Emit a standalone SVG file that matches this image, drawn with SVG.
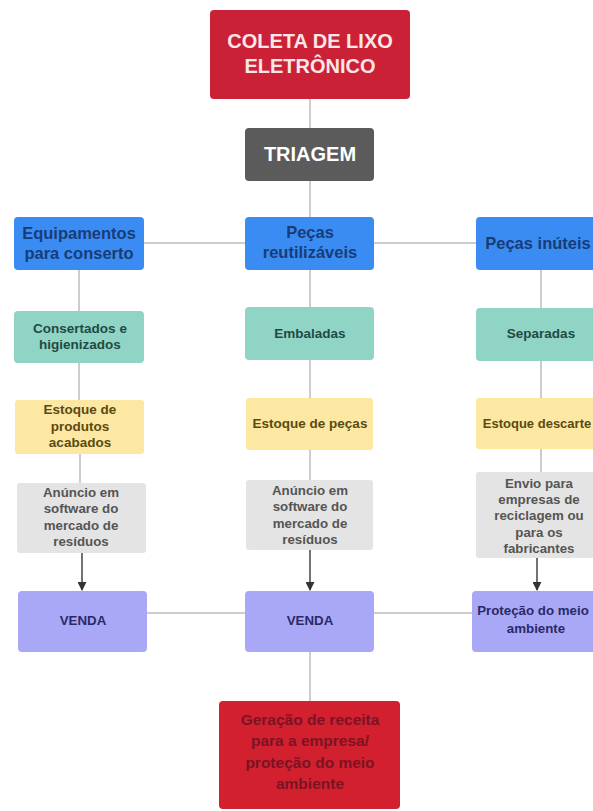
<svg xmlns="http://www.w3.org/2000/svg" width="593" height="811" viewBox="0 0 593 811">
<style>
text{font-family:"Liberation Sans",Arial,sans-serif;text-anchor:middle;font-weight:bold}
.c{stroke:#bcbcbc;stroke-width:1.5;fill:none}
.a{stroke:#444;stroke-width:1.5;fill:none}
.red{fill:#cb2136}
.gray{fill:#5b5b5b}
.blue{fill:#3b8cf2}
.teal{fill:#8fd4c5}
.yel{fill:#fce8a2}
.lg{fill:#e4e4e4}
.pur{fill:#a9a8f7}
.tw{fill:#fbe6e8;font-size:20px}
.tb{fill:#183c78;font-size:16.5px}
.tt{fill:#1f4a44;font-size:13.5px}
.ty{fill:#5a4a12;font-size:13.5px}
.tg{fill:#555;font-size:13.3px}
.tp{fill:#2a2a66;font-size:13.3px}
.tr{fill:#7a1424;font-size:15.5px}
</style>
<defs>
<marker id="ar" viewBox="0 0 10 10" refX="9" refY="5" markerWidth="6" markerHeight="6" orient="auto">
<path d="M0,0 L10,5 L0,10 z" fill="#333"/>
</marker>
</defs>
<rect width="593" height="811" fill="#fff"/>
<g id="connectors">
<line class="c" x1="310" y1="99" x2="310" y2="128"/>
<line class="c" x1="310" y1="181" x2="310" y2="217"/>
<line class="c" x1="144" y1="243" x2="245" y2="243"/>
<line class="c" x1="374" y1="243" x2="476" y2="243"/>
<line class="c" x1="79" y1="270" x2="79" y2="311"/>
<line class="c" x1="310" y1="270" x2="310" y2="307"/>
<line class="c" x1="541" y1="270" x2="541" y2="308"/>
<line class="c" x1="79" y1="363" x2="79" y2="400"/>
<line class="c" x1="310" y1="360" x2="310" y2="398"/>
<line class="c" x1="541" y1="361" x2="541" y2="398"/>
<line class="c" x1="80" y1="454" x2="80" y2="483"/>
<line class="c" x1="310" y1="450" x2="310" y2="480"/>
<line class="c" x1="541" y1="449" x2="541" y2="472"/>
<line class="a" x1="82" y1="553" x2="82" y2="590" marker-end="url(#ar)"/>
<line class="a" x1="310" y1="550" x2="310" y2="590" marker-end="url(#ar)"/>
<line class="a" x1="537" y1="558" x2="537" y2="590" marker-end="url(#ar)"/>
<line class="c" x1="147" y1="613" x2="245" y2="613"/>
<line class="c" x1="374" y1="613" x2="472" y2="613"/>
<line class="c" x1="310" y1="652" x2="310" y2="701"/>
</g>
<g id="coleta"><rect class="red" x="210" y="10" width="200" height="89" rx="4"/>
<text class="tw" x="310" y="48">COLETA DE LIXO</text><text class="tw" x="310" y="73">ELETRÔNICO</text></g>
<g id="triagem"><rect class="gray" x="245" y="128" width="129" height="53" rx="4"/>
<text class="tw" x="310" y="161" style="fill:#fff">TRIAGEM</text></g>
<g id="equipamentos"><rect class="blue" x="14" y="217" width="130" height="53" rx="4"/>
<text class="tb" x="79" y="239">Equipamentos</text><text class="tb" x="79" y="259">para conserto</text></g>
<g id="pecas-reutilizaveis"><rect class="blue" x="245" y="217" width="129" height="53" rx="4"/>
<text class="tb" x="310" y="238">Peças</text><text class="tb" x="310" y="258">reutilizáveis</text></g>
<g id="pecas-inuteis"><rect class="blue" x="476" y="217" width="130" height="53" rx="4"/>
<text class="tb" x="538" y="249">Peças inúteis</text></g>
<g id="consertados"><rect class="teal" x="14" y="311" width="130" height="52" rx="4"/>
<text class="tt" x="80" y="333">Consertados e</text><text class="tt" x="80" y="349">higienizados</text></g>
<g id="embaladas"><rect class="teal" x="245" y="307" width="129" height="53" rx="4"/>
<text class="tt" x="310" y="338">Embaladas</text></g>
<g id="separadas"><rect class="teal" x="476" y="308" width="130" height="53" rx="4"/>
<text class="tt" x="541" y="338">Separadas</text></g>
<g id="estoque-produtos"><rect class="yel" x="15" y="400" width="129" height="54" rx="3"/>
<text class="ty" x="80" y="414">Estoque de</text><text class="ty" x="80" y="431">produtos</text><text class="ty" x="80" y="447">acabados</text></g>
<g id="estoque-pecas"><rect class="yel" x="246" y="398" width="127" height="52" rx="3"/>
<text class="ty" x="310" y="428">Estoque de peças</text></g>
<g id="estoque-descarte"><rect class="yel" x="476" y="398" width="130" height="51" rx="3"/>
<text class="ty" x="537" y="428" style="font-size:13px">Estoque descarte</text></g>
<g id="anuncio-1"><rect class="lg" x="17" y="483" width="129" height="70" rx="3"/>
<text class="tg" x="81" y="497">Anúncio em</text><text class="tg" x="81" y="513">software do</text><text class="tg" x="81" y="530">mercado de</text><text class="tg" x="81" y="546">resíduos</text></g>
<g id="anuncio-2"><rect class="lg" x="246" y="480" width="127" height="70" rx="3"/>
<text class="tg" x="310" y="495">Anúncio em</text><text class="tg" x="310" y="511">software do</text><text class="tg" x="310" y="528">mercado de</text><text class="tg" x="310" y="544">resíduos</text></g>
<g id="envio"><rect class="lg" x="476" y="472" width="130" height="86" rx="3"/>
<text class="tg" x="539" y="488">Envio para</text><text class="tg" x="539" y="504">empresas de</text><text class="tg" x="539" y="520">reciclagem ou</text><text class="tg" x="539" y="537">para os</text><text class="tg" x="539" y="553">fabricantes</text></g>
<g id="venda-1"><rect class="pur" x="18" y="591" width="129" height="61" rx="4"/>
<text class="tp" x="83" y="625">VENDA</text></g>
<g id="venda-2"><rect class="pur" x="245" y="591" width="129" height="61" rx="4"/>
<text class="tp" x="310" y="625">VENDA</text></g>
<g id="protecao"><rect class="pur" x="472" y="591" width="130" height="61" rx="4"/>
<text class="tp" x="533" y="615">Proteção do meio</text><text class="tp" x="536" y="633">ambiente</text></g>
<g id="geracao"><rect class="red" x="219" y="701" width="181" height="108" rx="4" style="fill:#d2202f"/>
<text class="tr" x="310" y="725">Geração de receita</text><text class="tr" x="310" y="746">para a empresa/</text><text class="tr" x="310" y="768">proteção do meio</text><text class="tr" x="310" y="789">ambiente</text></g>
</svg>
